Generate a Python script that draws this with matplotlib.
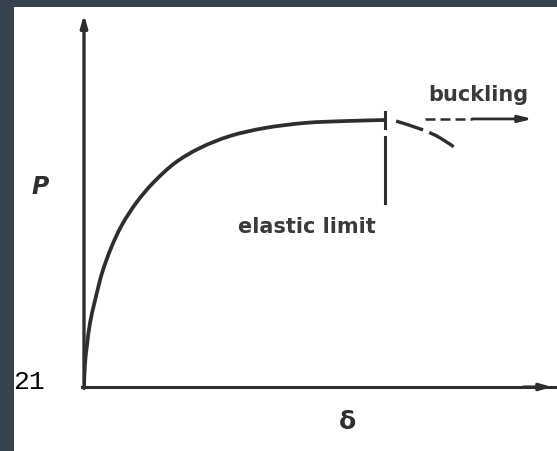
import numpy as np
import matplotlib
matplotlib.use("Agg")
import matplotlib.pyplot as plt
from matplotlib.patches import Rectangle, PathPatch
from matplotlib.path import Path

# load-deflection curve up to the elastic limit (normalised so the limit sits at 10, 10)
delta = [0.0, 0.03, 0.10, 0.20, 0.37, 0.60, 0.90, 1.26, 1.73, 2.29, 3.02, 3.85, 4.85,
         6.01, 7.34, 8.67, 10.0]
load = [0.0, 0.82, 1.57, 2.40, 3.26, 4.27, 5.21, 6.07, 6.89, 7.64, 8.39, 8.95, 9.40,
        9.70, 9.89, 9.96, 10.0]

# post-limit branch (dashed, falling off)
buck_delta = [10.37, 11.26, 11.83, 12.43]
buck_load = [9.96, 9.63, 9.33, 8.88]

elastic_limit = (10.0, 10.0)
buckling_arrow = [11.33, 12.9, 14.9]   # start of dashes, start of solid part, tip
buckling_level = 10.04

ink = "#2e2e2e"
W, H = 557, 451


def smooth_path(xs, ys):
    # catmull-rom through the points, written as cubic bezier segments
    p = np.column_stack([xs, ys]).astype(float)
    p = np.vstack([p[0], p, p[-1]])
    verts = [p[1]]
    codes = [Path.MOVETO]
    for i in range(1, len(p) - 2):
        c1 = p[i] + (p[i + 1] - p[i - 1]) / 6
        c2 = p[i + 1] - (p[i + 2] - p[i]) / 6
        verts += [c1, c2, p[i + 1]]
        codes += [Path.CURVE4] * 3
    return Path(verts, codes)


fig = plt.figure(figsize=(W / 100, H / 100), dpi=100)
fig.patch.set_facecolor("#37424f")

# white paper area
fig.add_artist(Rectangle((14 / W, 0), 1, 1 - 7 / H, transform=fig.transFigure,
                         facecolor="white", edgecolor="none", zorder=0))

ax = fig.add_axes([84 / W, 64 / H, (W - 84) / W, (387 - 7) / H])
ax.set_xlim(0, (W - 84) / 30.1)
ax.set_ylim(0, (387 - 7) / 26.7)
ax.axis("off")
ax.patch.set_alpha(0)

# axes drawn as arrows
ax.annotate("", xy=(0, 13.95), xytext=(0, -0.05),
            arrowprops=dict(arrowstyle="-|>,head_length=0.7,head_width=0.2", lw=2.4, color=ink,
                            shrinkA=0, shrinkB=0), annotation_clip=False)
ax.plot([-0.05, 15.7], [0, 0], color=ink, lw=2.2, clip_on=False)
ax.annotate("", xy=(15.55, 0), xytext=(14.6, 0),
            arrowprops=dict(arrowstyle="-|>,head_length=0.7,head_width=0.2", lw=2.2, color=ink,
                            shrinkA=0, shrinkB=0), annotation_clip=False)

ax.add_patch(PathPatch(smooth_path(delta, load), facecolor="none", edgecolor=ink,
                       lw=2.7, capstyle="round"))
buck = PathPatch(smooth_path(buck_delta, buck_load), facecolor="none", edgecolor=ink, lw=2.4)
buck.set_linestyle((0, (8.5, 2)))
ax.add_patch(buck)

# elastic limit marker
ex, ey = elastic_limit
ax.plot([ex, ex], [ey - 0.3, ey + 0.3], color=ink, lw=2.2)
ax.plot([ex, ex], [6.9, 9.36], color=ink, lw=2.2)
ax.text(7.41, 6.0, "elastic limit", ha="center", va="center", fontsize=15,
        color="#3a3a3a", fontweight="bold", family="DejaVu Sans")

# buckling direction
ax.plot(buckling_arrow[:2], [buckling_level] * 2, color=ink, lw=1.8, dashes=(4, 2))
ax.annotate("", xy=(buckling_arrow[2], buckling_level), xytext=(buckling_arrow[1], buckling_level),
            arrowprops=dict(arrowstyle="-|>,head_length=0.8,head_width=0.2", lw=2.0, color=ink,
                            shrinkA=0, shrinkB=0))
ax.text(13.09, 10.95, "buckling", ha="center", va="center", fontsize=15,
        color="#3a3a3a", fontweight="bold", family="DejaVu Sans")

ax.text(-1.46, 7.49, "P", ha="center", va="center", fontsize=17, style="italic",
        fontweight="bold", color=ink, clip_on=False)
ax.text(8.77, -1.31, "δ", ha="center", va="center", fontsize=18, fontweight="bold",
        color=ink, clip_on=False)

fig.text(13 / W, 1 - 382 / H, "21", ha="left", va="center", fontsize=19,
         family="Liberation Mono", color="black")

fig.savefig("out.png", dpi=100, facecolor=fig.get_facecolor())
